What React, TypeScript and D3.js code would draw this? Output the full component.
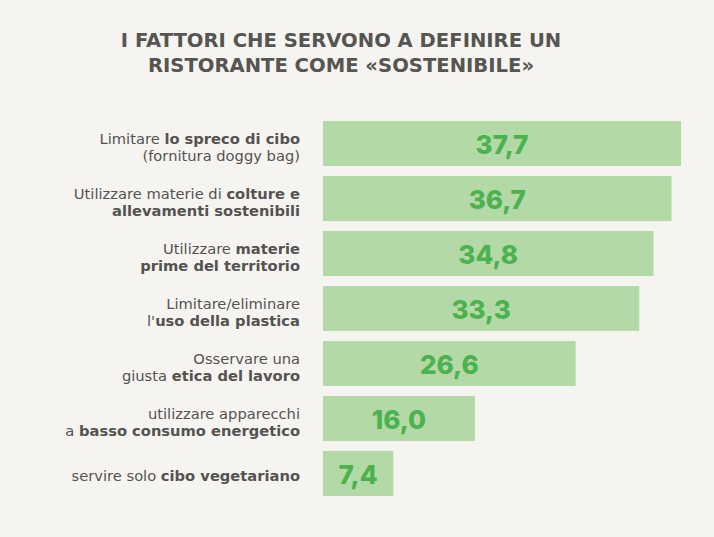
import React from 'react';
import * as d3 from 'd3';

// each label line: [normal text, bold text] pairs
type Seg = { t: string; b?: boolean };

const labelLines: Seg[][][] = [
  [[{ t: 'Limitare ' }, { t: 'lo spreco di cibo', b: true }], [{ t: '(fornitura doggy bag)' }]],
  [[{ t: 'Utilizzare materie di ' }, { t: 'colture e', b: true }], [{ t: 'allevamenti sostenibili', b: true }]],
  [[{ t: 'Utilizzare ' }, { t: 'materie', b: true }], [{ t: 'prime del territorio', b: true }]],
  [[{ t: 'Limitare/eliminare' }], [{ t: "l'" }, { t: 'uso della plastica', b: true }]],
  [[{ t: 'Osservare una' }], [{ t: 'giusta ' }, { t: 'etica del lavoro', b: true }]],
  [[{ t: 'utilizzare apparecchi' }], [{ t: 'a ' }, { t: 'basso consumo energetico', b: true }]],
  [[{ t: 'servire solo ' }, { t: 'cibo vegetariano', b: true }]],
];

const values = [37.7, 36.7, 34.8, 33.3, 26.6, 16.0, 7.4];

const titleLines = ['I FATTORI CHE SERVONO A DEFINIRE UN', 'RISTORANTE COME «SOSTENIBILE»'];

const W = 714;
const H = 537;

const App: React.FC = () => {
  const idx = values.map((_, i) => i);
  const y = d3.scaleBand<number>().domain(idx).range([121, 496]).paddingInner(10 / 55).paddingOuter(0);
  const x = d3.scaleLinear().domain([0, 37.7]).range([323, 681]);
  const fmt = (v: number) => v.toFixed(1).replace('.', ',');

  return (
    <svg width={W} height={H} style={{ display: 'block', position: 'absolute', left: 0, top: 0 }}>
      <rect width={W} height={H} fill="#f5f4f0" />
      {titleLines.map((l, i) => (
        <text
          key={i}
          x={341}
          y={47 + i * 25}
          textAnchor="middle"
          fontFamily="'DejaVu Sans', sans-serif"
          fontWeight={700}
          fontSize={19.6}
          fill="#575550"
        >
          {l}
        </text>
      ))}
      {values.map((v, i) => {
        const y0 = y(i)!;
        const bw = y.bandwidth();
        const cy = y0 + bw / 2;
        const lines = labelLines[i];
        return (
          <g key={i}>
            <rect x={x(0)} y={y0} width={x(v) - x(0)} height={bw} fill="#b2d9a6" />
            <text
              x={(x(0) + x(v)) / 2}
              y={cy + 10}
              textAnchor="middle"
              fontFamily="Inter, 'Open Sans', sans-serif"
              fontWeight={800}
              fontSize={26}
              fill="#4cb250"
            >
              {fmt(v)}
            </text>
            {lines.map((segs, j) => (
              <text
                key={j}
                x={300}
                y={lines.length === 1 ? cy + 7 : cy + j * 17.5}
                textAnchor="end"
                fontFamily="'DejaVu Sans', sans-serif"
                fontSize={14.7}
                fill="#555350"
              >
                {segs.map((s, k) => (
                  <tspan key={k} fontWeight={s.b ? 700 : 400}>
                    {s.t}
                  </tspan>
                ))}
              </text>
            ))}
          </g>
        );
      })}
    </svg>
  );
};

export default App;
